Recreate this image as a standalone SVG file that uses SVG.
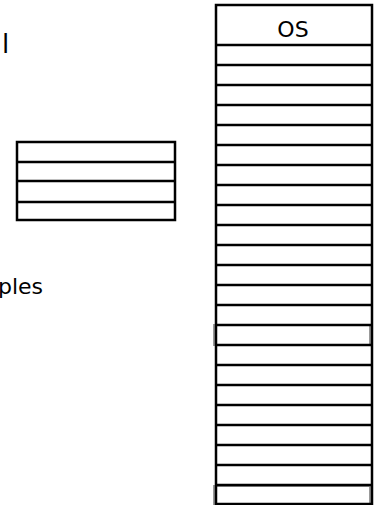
<svg xmlns="http://www.w3.org/2000/svg" width="378" height="505" viewBox="0 0 378 505">
<style>
.t{font-family:"DejaVu Sans","Liberation Sans",sans-serif;fill:#000}
.k{fill:none;stroke:#000;stroke-width:2.5}
.g{fill:none;stroke:#999;stroke-width:2}
.r{stroke:#000;stroke-width:2.5}
</style>
<rect width="378" height="505" fill="#fff"/>
<g id="label-top"><text class="t" x="2" y="53" font-size="26">l</text></g>
<g id="label-bottom"><text class="t" x="-2" y="294" font-size="22">ples</text></g>
<g id="page-table">
<rect class="k" x="17" y="142" width="158" height="78"/>
<line class="r" x1="17" y1="162" x2="175" y2="162"/>
<line class="r" x1="17" y1="181" x2="175" y2="181"/>
<line class="r" x1="17" y1="202" x2="175" y2="202"/>
</g>
<g id="memory">
<rect class="g" x="214" y="325" width="156" height="20"/>
<rect class="g" x="214" y="486" width="156" height="18"/>
<rect class="k" x="216" y="5" width="156" height="499"/>
<text class="t" x="293" y="37" font-size="22" text-anchor="middle">OS</text>
<g class="r">
<line x1="216" y1="45" x2="372" y2="45"/>
<line x1="216" y1="65" x2="372" y2="65"/>
<line x1="216" y1="85" x2="372" y2="85"/>
<line x1="216" y1="105" x2="372" y2="105"/>
<line x1="216" y1="125" x2="372" y2="125"/>
<line x1="216" y1="145" x2="372" y2="145"/>
<line x1="216" y1="165" x2="372" y2="165"/>
<line x1="216" y1="185" x2="372" y2="185"/>
<line x1="216" y1="205" x2="372" y2="205"/>
<line x1="216" y1="225" x2="372" y2="225"/>
<line x1="216" y1="245" x2="372" y2="245"/>
<line x1="216" y1="265" x2="372" y2="265"/>
<line x1="216" y1="285" x2="372" y2="285"/>
<line x1="216" y1="305" x2="372" y2="305"/>
<line x1="216" y1="325" x2="372" y2="325"/>
<line x1="216" y1="345" x2="372" y2="345"/>
<line x1="216" y1="365" x2="372" y2="365"/>
<line x1="216" y1="385" x2="372" y2="385"/>
<line x1="216" y1="405" x2="372" y2="405"/>
<line x1="216" y1="425" x2="372" y2="425"/>
<line x1="216" y1="445" x2="372" y2="445"/>
<line x1="216" y1="465" x2="372" y2="465"/>
<line x1="216" y1="485" x2="372" y2="485"/>
</g>
</g>
<g id="connectors"></g>
</svg>
